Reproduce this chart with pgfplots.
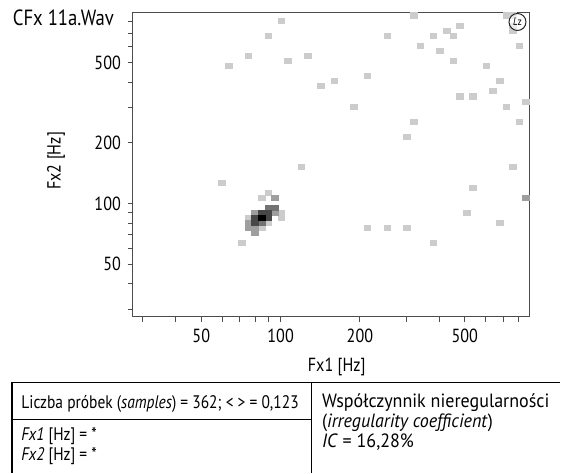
\documentclass[border=0pt]{standalone}
\usepackage{fontspec}
\setmainfont{PT Sans}[FakeStretch=0.85]
\newfontfamily\widefont{PT Sans}[FakeStretch=0.94]
\usepackage{pgfplots}
\pgfplotsset{compat=1.18}
\begin{document}
\begin{tikzpicture}
\begin{scope}[x=0.5pt,y=-0.5pt]
\useasboundingbox (0,0) rectangle (561,473);
\coordinate (axSW) at (133,317);
\end{scope}
\begin{axis}[
  at={(axSW)}, anchor=south west,
  scale only axis, width=198.5pt, height=152pt,
  xmode=log, ymode=log,
  xmin=27.5, xmax=880, ymin=27.5, ymax=880,
  axis line style={black!70, line width=0.5pt},
  tick style={black!70, line width=0.5pt},
  tick align=outside, xtick pos=bottom, ytick pos=left,
  major tick length=2.5pt, minor tick length=2.5pt,
  xtick={50,100,200,500}, xticklabels={50,100,200,500},
  ytick={50,100,200,500}, yticklabels={50,100,200,500},
  minor xtick={30,40,60,70,80,90,300,400,600,700,800},
  minor ytick={30,40,60,70,80,90,300,400,600,700,800},
  tick label style={font=\fontsize{9.5}{10}\selectfont},
  /pgf/number format/assume math mode=true,
  clip=true,
]
% light cells
\addplot[only marks, color=black!20, mark=square*, mark size=1.27pt, mark options={xscale=1.31, draw=black!20, fill=black!20, line width=0pt}] coordinates {
(100.87,806.97) (89.87,678.58) (75.57,538.59) (63.54,479.83) (106.87,508.36)
(127.09,538.59) (142.65,380.83) (160.12,403.48) (320.24,854.96) (718.93,854.96)
(761.68,854.96) (761.68,761.68) (761.68,718.93) (479.83,761.68) (427.47,718.93)
(254.18,678.58) (380.83,678.58) (452.90,678.58) (339.29,604.55) (806.97,604.55)
(403.48,570.61) (452.90,508.36) (604.55,479.83) (213.74,427.47) (678.58,403.48)
(640.49,359.46) (479.83,339.29) (538.59,339.29) (854.96,320.24) (190.42,302.27)
(718.93,302.27) (320.24,254.18) (806.97,254.18) (302.27,213.74) (761.68,151.13)
(119.95,151.13) (59.98,127.09) (538.59,119.95) (508.36,89.87) (678.58,80.06)
(213.74,75.57) (254.18,75.57) (302.27,75.57) (380.83,63.54) (71.33,63.54)
(89.87,113.22) (84.82,106.87) (100.87,89.87) (75.57,84.82) (100.87,84.82)
(89.87,80.06) (84.82,75.57)
};
\addplot[only marks, color=black!38, mark=square*, mark size=1.27pt, mark options={xscale=1.31, draw=black!38, fill=black!38, line width=0pt}] coordinates {
(854.96,106.87) (95.21,106.87) (80.06,89.87) (95.21,89.87) (75.57,80.06)
(75.57,75.57) (80.06,75.57) (80.06,71.33)
};
\addplot[only marks, color=black!55, mark=square*, mark size=1.27pt, mark options={xscale=1.31, draw=black!55, fill=black!55, line width=0pt}] coordinates {
(89.87,95.21) (95.21,95.21) (84.82,80.06)
};
\addplot[only marks, color=black!72, mark=square*, mark size=1.27pt, mark options={xscale=1.31, draw=black!72, fill=black!72, line width=0pt}] coordinates {
(84.82,89.87) (89.87,89.87) (80.06,84.82) (89.87,84.82) (80.06,80.06)
};
\addplot[only marks, color=black, mark=square*, mark size=1.27pt, mark options={xscale=1.31, draw=black, fill=black, line width=0pt}] coordinates {
(84.82,84.82)
};
\end{axis}
\begin{scope}[x=0.5pt,y=-0.5pt]
\node[anchor=base west, inner sep=0, font=\fontsize{11}{12}\selectfont] at (12.5,26) {CFx 11a.Wav};
\node[rotate=90, inner sep=0, font=\fontsize{9.5}{10}\selectfont] at (56,161) {Fx2 [Hz]};
\node[inner sep=0, font=\fontsize{9.5}{10}\selectfont] at (337,367) {Fx1 [Hz]};
\node[circle, draw=black!85, line width=0.5pt, fill=white, fill opacity=0.6, text opacity=1, minimum size=8.5pt, inner sep=0, font=\fontsize{5.5}{6}\selectfont] at (518,22) {\textit{L}z};
% table
\draw[line width=0.55pt] (12,473) -- (12,383.3) -- (561,383.3);
\draw[line width=0.55pt] (312,383.3) -- (312,473);
\draw[line width=0.55pt] (12,420) -- (312,420);
\begin{scope}[every node/.style={anchor=base west, inner sep=0, font=\fontsize{9.1}{10}\selectfont}]
\node at (21,409) {Liczba próbek (\textit{samples}) = 362; < > = 0,123};
\node at (21,441) {\textit{Fx1} [Hz] = *};
\node at (21,461) {\textit{Fx2} [Hz] = *};
\end{scope}
\begin{scope}[every node/.style={anchor=base west, inner sep=0, font=\widefont\fontsize{9.6}{10}\selectfont}]
\node at (322,407.5) {Współczynnik nieregularności};
\node at (322,428) {(\textit{irregularity coefficient})};
\node at (322,448) {\textit{IC} = 16,28\%};
\end{scope}
\end{scope}
\end{tikzpicture}
\end{document}
